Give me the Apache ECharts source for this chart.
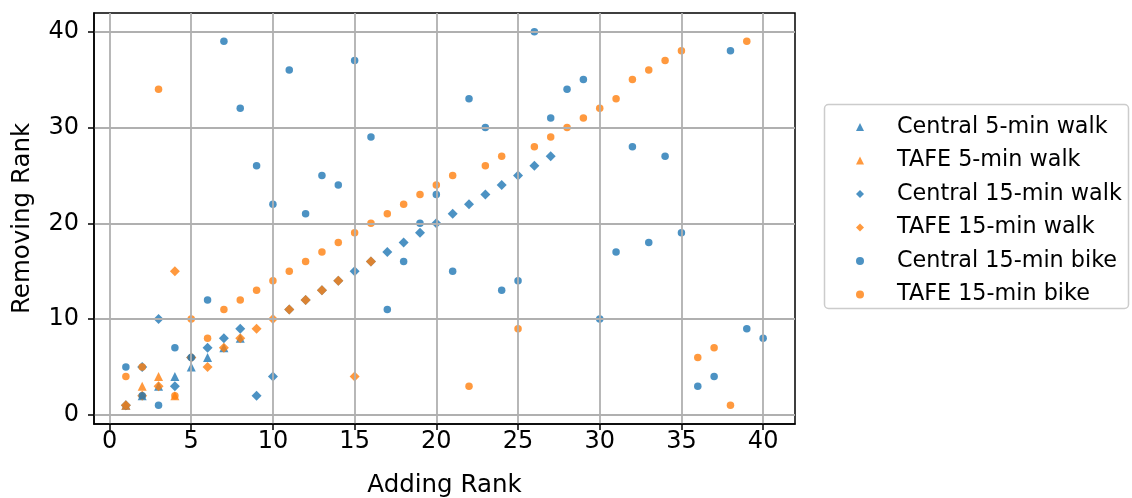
<!DOCTYPE html>
<html>
<head>
<meta charset="utf-8">
<script src="https://cdn.jsdelivr.net/npm/echarts@6/dist/echarts.min.js"></script>
<style>
html,body{margin:0;padding:0;background:#fff;}
#chart{width:1132px;height:498px;}
</style>
</head>
<body>
<div id="chart"></div>
<script>
// ---- data ----
const seriesNames = ['Central 5-min walk','TAFE 5-min walk','Central 15-min walk','TAFE 15-min walk','Central 15-min bike','TAFE 15-min bike'];
const central5X = [1,2,3,4,5,6,7,8];
const central5Y = [1,2,3,4,5,6,7,8];
const tafe5X = [1,2,3,4];
const tafe5Y = [1,3,4,2];
const central15X = [1,2,3,4,5,6,7,8,9,10,11,12,13,14,15,16,17,18,19,20,21,22,23,24,25,26,27];
const central15Y = [1,5,10,3,6,7,8,9,2,4,11,12,13,14,15,16,17,18,19,20,21,22,23,24,25,26,27];
const tafe15X = [1,2,3,4,5,6,7,8,9,10,11,12,13,14,15,16];
const tafe15Y = [1,2,3,15,6,5,7,8,9,10,11,12,13,14,4,16];
const centralBikeX = [1,2,3,4,5,6,7,8,9,10,11,12,13,14,15,16,17,18,19,20,21,22,23,24,25,26,27,28,29,30,31,32,33,34,35,36,37,38,39,40];
const centralBikeY = [5,2,1,7,6,12,39,32,26,22,36,21,25,24,37,29,11,16,20,23,15,33,30,13,14,40,31,34,35,10,17,28,18,27,19,3,4,38,9,8];
const tafeBikeX = [1,2,3,4,5,6,7,8,9,10,11,12,13,14,15,16,17,18,19,20,21,22,23,24,25,26,27,28,29,30,31,32,33,34,35,36,37,38,39];
const tafeBikeY = [4,5,34,2,10,8,11,12,13,14,15,16,17,18,19,20,21,22,23,24,25,3,26,27,9,28,29,30,31,32,33,35,36,37,38,6,7,1,39];
const xTicks = [0,5,10,15,20,25,30,35,40];
const yTicks = [0,10,20,30,40];

const pairs = (xs, ys) => xs.map((x, i) => [x, ys[i]]);
const BLUE = '#1f77b4', ORANGE = '#ff7f0e';
const FONT = 'DejaVu Sans';

function sc(name, xs, ys, color, symbol, size) {
  return {
    name, type: 'scatter', data: pairs(xs, ys), symbol, symbolSize: size,
    itemStyle: { color, opacity: 0.8 },
    emphasis: { disabled: true }, z: 2
  };
}

const chart = echarts.init(document.getElementById('chart'), null, { renderer: 'canvas' });
chart.setOption({
  animation: false,
  backgroundColor: '#fff',
  grid: { left: 94, right: 337, top: 13, bottom: 74, outerBoundsMode: 'none', containLabel: false, show: true, borderColor: '#000', borderWidth: 1.5, backgroundColor: 'transparent' },
  xAxis: {
    type: 'value', min: -0.95, max: 41.95, z: 3,
    name: 'Adding Rank', nameLocation: 'middle', nameGap: 49,
    nameTextStyle: { fontFamily: FONT, fontSize: 24.5, color: '#000' },
    axisLine: { show: true, onZero: false, lineStyle: { color: '#000', width: 1.5 } },
    axisTick: { show: true, inside: false, length: 6, customValues: xTicks, lineStyle: { color: '#000', width: 1.5 } },
    axisLabel: { customValues: xTicks, margin: 6, fontFamily: FONT, fontSize: 24, color: '#000' },
    splitLine: { show: true, lineStyle: { color: '#b0b0b0', width: 1.8 } }
  },
  yAxis: {
    type: 'value', min: -0.95, max: 41.95, z: 3,
    name: 'Removing Rank', nameLocation: 'middle', nameGap: 59, nameRotate: 90,
    nameTextStyle: { fontFamily: FONT, fontSize: 24.5, color: '#000' },
    axisLine: { show: true, onZero: false, lineStyle: { color: '#000', width: 1.5 } },
    axisTick: { show: true, inside: false, length: 6, customValues: yTicks, lineStyle: { color: '#000', width: 1.5 } },
    axisLabel: { customValues: yTicks, margin: 15, fontFamily: FONT, fontSize: 24, color: '#000' },
    splitLine: { show: true, lineStyle: { color: '#b0b0b0', width: 1.8 } }
  },
  legend: {
    orient: 'vertical', left: 851, top: 110, itemWidth: 8, itemHeight: 8, itemGap: 9.5,
    data: seriesNames,
    textStyle: { fontFamily: FONT, fontSize: 22.3, color: '#000', lineHeight: 24, padding: [0, 0, 0, 28] },
    selectedMode: false
  },
  graphic: [{
    type: 'rect', shape: { x: 824.5, y: 104.5, width: 304, height: 204, r: 4 },
    style: { fill: 'none', stroke: '#cccccc', lineWidth: 1.5 }, z: 0
  }],
  series: [
    sc(seriesNames[0], central5X, central5Y, BLUE, 'triangle', 9),
    sc(seriesNames[1], tafe5X, tafe5Y, ORANGE, 'triangle', 9),
    sc(seriesNames[2], central15X, central15Y, BLUE, 'diamond', 10),
    sc(seriesNames[3], tafe15X, tafe15Y, ORANGE, 'diamond', 10),
    sc(seriesNames[4], centralBikeX, centralBikeY, BLUE, 'circle', 7.5),
    sc(seriesNames[5], tafeBikeX, tafeBikeY, ORANGE, 'circle', 7.5)
  ]
});
</script>
</body>
</html>
